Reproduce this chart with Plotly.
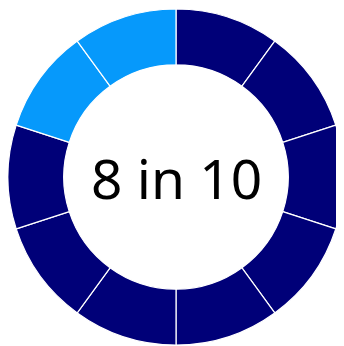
import plotly.graph_objects as go

segments = [f"Person {i}" for i in range(1, 11)]
values = [1] * 10
in_group = [True] * 8 + [False] * 2
center_label = "8 in 10"

DARK = "#000078"
LIGHT = "#0699FB"
colors = [DARK if g else LIGHT for g in in_group]

W, H = 344, 346
# page body has an 8px offset; place the pie so it lands where the reference has it
dom_x = [0, 336 / W]
dom_y = [9 / H, 345 / H]

fig = go.Figure(go.Pie(
    labels=segments,
    values=values,
    hole=0.668,
    sort=False,
    direction="clockwise",
    rotation=0,
    domain=dict(x=dom_x, y=dom_y),
    marker=dict(colors=colors, line=dict(color="white", width=1.2)),
    textinfo="none",
    hoverinfo="none",
    showlegend=False,
))

fig.update_layout(
    width=W, height=H,
    margin=dict(l=0, r=0, t=0, b=0),
    paper_bgcolor="white",
    plot_bgcolor="white",
    annotations=[dict(
        text=center_label, x=(dom_x[0] + dom_x[1]) / 2, y=(dom_y[0] + dom_y[1]) / 2,
        xref="paper", yref="paper", xanchor="center", yanchor="middle",
        showarrow=False, font=dict(family="Noto Sans", size=55, color="black"),
    )],
)

fig.write_html("out.html")
